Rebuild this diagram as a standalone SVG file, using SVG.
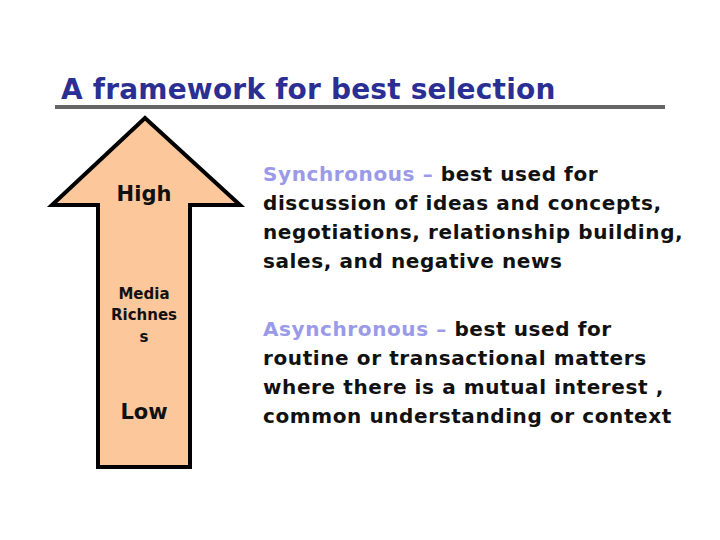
<svg xmlns="http://www.w3.org/2000/svg" width="720" height="540" viewBox="0 0 720 540">
<style>
text{font-family:"DejaVu Sans","Liberation Sans",sans-serif;font-weight:bold}
.b{font-size:20px;fill:#111;letter-spacing:0.6px}
.h{fill:#9a9ae8}
.c{text-anchor:middle;fill:#111}
</style>
<rect width="720" height="540" fill="#fff"/>
<g id="title">
<text x="61" y="99" font-size="28" fill="#2b2f93" letter-spacing="0.2">A framework for best selection</text>
<line x1="55" y1="107" x2="665" y2="107" stroke="#666" stroke-width="4"/>
</g>
<g id="arrow">
<polygon points="145,118 240,205 190,205 190,467 98,467 98,205 52,205" fill="#fbc79b" stroke="#000" stroke-width="4" stroke-linejoin="miter"/>
<text class="c" x="144" y="201" font-size="21">High</text>
<text class="c" x="144" y="299" font-size="15">Media</text>
<text class="c" x="144" y="320" font-size="15">Richnes</text>
<text class="c" x="144" y="342" font-size="15">s</text>
<text class="c" x="144" y="419" font-size="21">Low</text>
</g>
<g id="sync" class="b">
<text x="263" y="181"><tspan class="h">Synchronous –</tspan> best used for</text>
<text x="263" y="210">discussion of ideas and concepts,</text>
<text x="263" y="239">negotiations, relationship building,</text>
<text x="263" y="268">sales, and negative news</text>
</g>
<g id="async" class="b">
<text x="263" y="336"><tspan class="h">Asynchronous –</tspan> best used for</text>
<text x="263" y="365">routine or transactional matters</text>
<text x="263" y="394">where there is a mutual interest ,</text>
<text x="263" y="423">common understanding or context</text>
</g>
<g id="connectors"/>
</svg>
